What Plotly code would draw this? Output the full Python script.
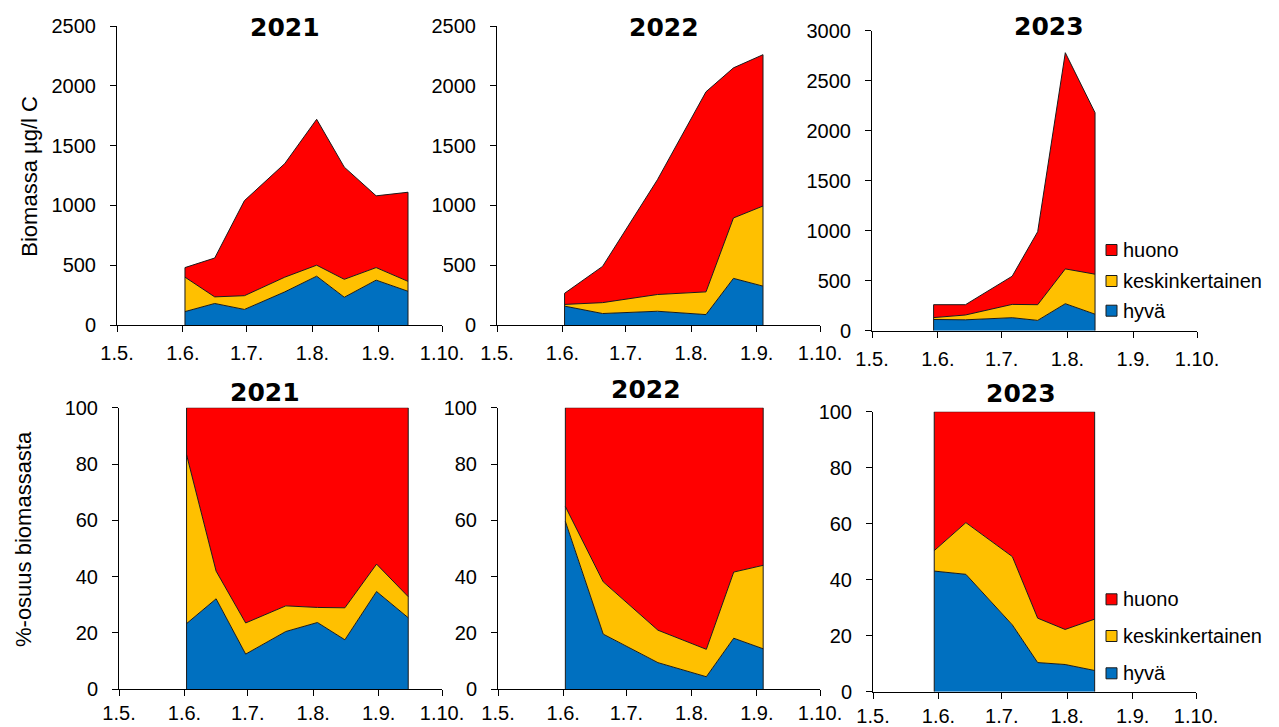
import plotly.graph_objects as go

# --- sampling dates and biomass (µg/l C) per quality class -------------------
dates_2021 = ["2021-06-02", "2021-06-16", "2021-06-30", "2021-07-19",
              "2021-08-03", "2021-08-16", "2021-08-31", "2021-09-15"]
hyva_2021 = [112, 180, 130, 277, 408, 232, 375, 282]
kesk_2021 = [288, 55, 115, 123, 92, 150, 105, 83]
huono_2021 = [80, 325, 795, 950, 1220, 938, 600, 745]

dates_2022 = ["2022-06-02", "2022-06-20", "2022-07-16", "2022-08-08",
              "2022-08-21", "2022-09-04"]
hyva_2022 = [158, 96, 115, 87, 390, 325]
kesk_2022 = [14, 91, 140, 190, 505, 670]
huono_2022 = [93, 303, 960, 1673, 1255, 1265]

dates_2023 = ["2023-05-30", "2023-06-14", "2023-07-06", "2023-07-18",
              "2023-07-31", "2023-08-14"]
hyva_2023 = [112, 109, 130, 103, 270, 165]
kesk_2023 = [19, 48, 133, 157, 348, 400]
huono_2023 = [129, 103, 282, 730, 2162, 1615]

years = ["2021", "2022", "2023"]
class_names = ["hyvä", "keskinkertainen", "huono"]
class_colors = ["#0070C0", "#FFC000", "#FF0000"]
month_labels = ["1.5.", "1.6.", "1.7.", "1.8.", "1.9.", "1.10."]
month_days = ["05-01", "06-01", "07-01", "08-01", "09-01", "10-01"]
top_ymax = [2500, 2500, 3000]

series = {
    "2021": (dates_2021, [hyva_2021, kesk_2021, huono_2021]),
    "2022": (dates_2022, [hyva_2022, kesk_2022, huono_2022]),
    "2023": (dates_2023, [hyva_2023, kesk_2023, huono_2023]),
}

W, H = 1279, 727
FONT = "Liberation Sans, Arial, sans-serif"
TITLE_FONT = "DejaVu Sans, Arial, sans-serif"
EDGE = "#1a1a1a"


def px(x):
    return x / W


def py(y):
    return 1 - y / H


# plot-area rectangles in pixels: (left, right, top, bottom)
top_boxes = [(117, 442, 26, 325), (497, 820, 26, 325), (872, 1197, 30.7, 330.7)]
bot_boxes = [(119, 442, 407.7, 689.3), (498, 820, 407.7, 689.3), (873, 1196, 411.7, 691.7)]

fig = go.Figure()
layout = dict(
    width=W, height=H, autosize=False,
    margin=dict(l=0, r=0, t=0, b=0, autoexpand=False),
    paper_bgcolor="white", plot_bgcolor="white",
    showlegend=False,
    font=dict(family=FONT, size=20, color="black"),
)


def axis_common():
    return dict(showgrid=False, zeroline=False, showline=True, automargin=False,
                linecolor="black", linewidth=1, ticks="outside",
                ticklen=6, tickcolor="black", tickwidth=1,
                tickfont=dict(family=FONT, size=20, color="black"))


panel = 0
for row, boxes in enumerate([top_boxes, bot_boxes]):
    for i, year in enumerate(years):
        panel += 1
        sfx = "" if panel == 1 else str(panel)
        xa, ya = "x" + sfx, "y" + sfx
        left, right, top, bottom = boxes[i]
        dates, vals = series[year]

        xaxis = axis_common()
        xaxis.update(type="date", domain=[px(left), px(right)], anchor=ya,
                     range=[f"{year}-05-01", f"{year}-10-01"],
                     tickvals=[f"{year}-{d}" for d in month_days],
                     ticktext=month_labels,
                     ticklabelstandoff=4 if row == 0 else 0)
        yaxis = axis_common()
        ymax = top_ymax[i] if row == 0 else 100
        yaxis.update(domain=[py(bottom), py(top)], anchor=xa,
                     range=[0, ymax], dtick=500 if row == 0 else 20,
                     ticklabelstandoff=10)
        layout["xaxis" + sfx] = xaxis
        layout["yaxis" + sfx] = yaxis

        group = f"{'bio' if row == 0 else 'pct'}{year}"
        for name, color, v in zip(class_names, class_colors, vals):
            fig.add_trace(go.Scatter(
                x=dates, y=v, name=name, mode="lines",
                stackgroup=group,
                groupnorm="percent" if row == 1 else "",
                line=dict(color=EDGE, width=1),
                fillcolor=color, xaxis=xa, yaxis=ya,
            ))

        # outline the vertical ends of the stacked area
        totals = [sum(t) for t in zip(*vals)]
        for k in (0, -1):
            h = totals[k] if row == 0 else 100
            fig.add_trace(go.Scatter(
                x=[dates[k], dates[k]], y=[0, h], mode="lines",
                line=dict(color=EDGE, width=1), hoverinfo="skip",
                xaxis=xa, yaxis=ya,
            ))

fig.update_layout(**layout)

annotations = []
# panel titles
title_pos = [(285, 27.2), (664, 27.2), (1049, 26.7),
             (265, 392), (646, 389), (1021, 393.3)]
for (tx, ty), year in zip(title_pos, years + years):
    annotations.append(dict(
        x=px(tx), y=py(ty), xref="paper", yref="paper", text=f"<b>{year}</b>",
        showarrow=False, xanchor="center", yanchor="middle",
        font=dict(family=TITLE_FONT, size=25, color="black")))

# y-axis titles
annotations.append(dict(
    x=px(30), y=py(176.7), xref="paper", yref="paper", text="Biomassa µg/l C",
    textangle=-90, showarrow=False, xanchor="center", yanchor="middle",
    font=dict(family=FONT, size=22, color="black")))
annotations.append(dict(
    x=px(23), y=py(539), xref="paper", yref="paper", text="%-osuus biomassasta",
    textangle=-90, showarrow=False, xanchor="center", yanchor="middle",
    font=dict(family=FONT, size=22, color="black")))

# legend keys (top to bottom: huono, keskinkertainen, hyvä)
shapes = []
legend_rows = [[250, 281, 310.7], [599.3, 636, 673.3]]
for rows in legend_rows:
    for cy, name, color in zip(rows, class_names[::-1], class_colors[::-1]):
        shapes.append(dict(
            type="rect", xref="paper", yref="paper",
            x0=px(1106), x1=px(1117), y0=py(cy + 5.5), y1=py(cy - 5.5),
            fillcolor=color, line=dict(color=EDGE, width=1)))
        annotations.append(dict(
            x=px(1121), y=py(cy), xref="paper", yref="paper", text=name,
            showarrow=False, xanchor="left", yanchor="middle",
            font=dict(family=FONT, size=20, color="black")))

fig.update_layout(annotations=annotations, shapes=shapes)
fig.write_html("out.html")
